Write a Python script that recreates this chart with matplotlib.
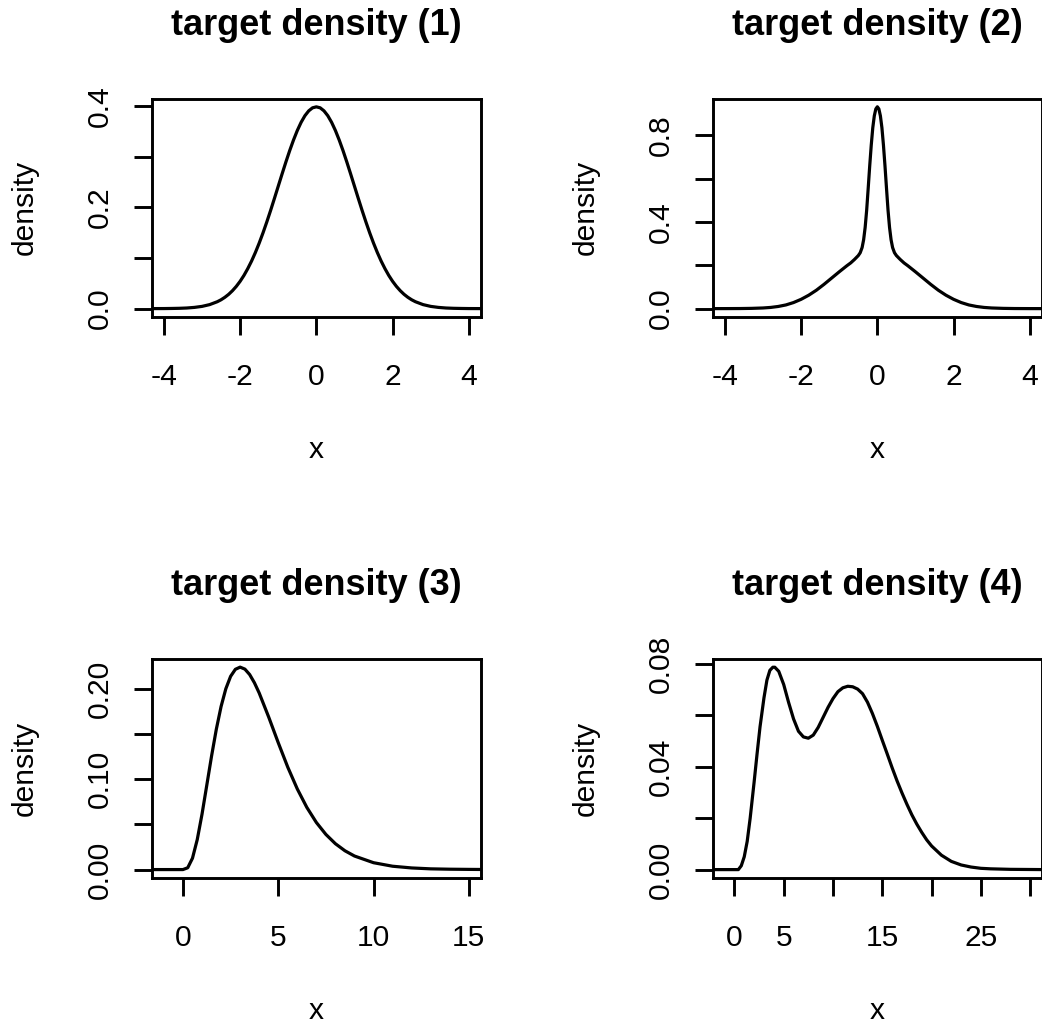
import matplotlib
matplotlib.use("Agg")
import matplotlib.pyplot as plt

plt.rcParams["font.family"] = ["Liberation Sans", "DejaVu Sans"]

# === density curves (x, density) ===
x1 = [-4.4, -4.0, -3.8, -3.6, -3.4, -3.2, -3.0, -2.8, -2.6,
      -2.5, -2.4, -2.3, -2.2, -2.1, -2.0, -1.9, -1.8, -1.7, -1.6, -1.5, -1.4, -1.3, -1.2, -1.1,
      -1.0, -0.9, -0.8, -0.7, -0.6, -0.5, -0.4, -0.3, -0.2, -0.1, 0.0,
      0.1, 0.2, 0.3, 0.4, 0.5, 0.6, 0.7, 0.8, 0.9, 1.0,
      1.1, 1.2, 1.3, 1.4, 1.5, 1.6, 1.7, 1.8, 1.9, 2.0, 2.1, 2.2, 2.3, 2.4, 2.5,
      2.6, 2.8, 3.0, 3.2, 3.4, 3.6, 3.8, 4.0, 4.4]
y1 = [0.0, 0.0001, 0.0003, 0.0006, 0.0012, 0.0024, 0.0044, 0.0079, 0.0136,
      0.0175, 0.0224, 0.0283, 0.0355, 0.0440, 0.0540, 0.0656, 0.0790, 0.0940, 0.1109, 0.1295, 0.1497, 0.1714, 0.1942, 0.2179,
      0.2420, 0.2661, 0.2897, 0.3123, 0.3332, 0.3521, 0.3683, 0.3814, 0.3910, 0.3970, 0.3989,
      0.3970, 0.3910, 0.3814, 0.3683, 0.3521, 0.3332, 0.3123, 0.2897, 0.2661, 0.2420,
      0.2179, 0.1942, 0.1714, 0.1497, 0.1295, 0.1109, 0.0940, 0.0790, 0.0656, 0.0540, 0.0440, 0.0355, 0.0283, 0.0224, 0.0175,
      0.0136, 0.0079, 0.0044, 0.0024, 0.0012, 0.0006, 0.0003, 0.0001, 0.0]

x2 = [-4.4, -4.0, -3.6, -3.3, -3.0, -2.8, -2.6, -2.4, -2.2, -2.0, -1.8, -1.6, -1.4, -1.2,
      -1.0, -0.9, -0.8, -0.7, -0.6, -0.55, -0.5, -0.45, -0.4, -0.36, -0.32, -0.28, -0.24,
      -0.2, -0.16, -0.12, -0.08, -0.04, 0.0,
      0.04, 0.08, 0.12, 0.16, 0.2, 0.24, 0.28, 0.32, 0.36, 0.4, 0.45, 0.5, 0.55, 0.6,
      0.7, 0.8, 0.9, 1.0, 1.2, 1.4, 1.6, 1.8, 2.0, 2.2, 2.4, 2.6, 2.8, 3.0, 3.3, 3.6, 4.0, 4.4]
y2 = [0.0, 0.0001, 0.0004, 0.0012, 0.003, 0.0055, 0.010, 0.017, 0.028, 0.043, 0.062, 0.085, 0.112, 0.141,
      0.170, 0.184, 0.198, 0.211, 0.227, 0.236, 0.245, 0.258, 0.282, 0.318, 0.375, 0.455, 0.556,
      0.660, 0.755, 0.835, 0.890, 0.922, 0.932,
      0.922, 0.890, 0.835, 0.755, 0.660, 0.556, 0.455, 0.375, 0.318, 0.282, 0.258, 0.245, 0.236, 0.227,
      0.211, 0.198, 0.184, 0.170, 0.141, 0.112, 0.085, 0.062, 0.043, 0.028, 0.017, 0.010, 0.0055, 0.003,
      0.0012, 0.0004, 0.0001, 0.0]

x3 = [-1.7, 0.0, 0.25, 0.5, 0.75, 1.0, 1.25, 1.5, 1.75, 2.0, 2.25, 2.5, 2.75, 3.0,
      3.25, 3.5, 3.75, 4.0, 4.5, 5.0, 5.5, 6.0, 6.5, 7.0, 7.5, 8.0, 8.5, 9.0,
      10.0, 11.0, 12.0, 13.0, 14.0, 15.0, 15.7]
y3 = [0.0, 0.0, 0.0020, 0.0126, 0.0332, 0.0613, 0.0933, 0.1255, 0.1552, 0.1804, 0.2001, 0.2138, 0.2216, 0.2240,
      0.2218, 0.2158, 0.2067, 0.1954, 0.1687, 0.1404, 0.1133, 0.0892, 0.0688, 0.0521, 0.0389, 0.0286, 0.0208, 0.0150,
      0.0076, 0.0037, 0.0018, 0.0008, 0.0004, 0.0002, 0.0001]

x4 = [-2.3, 0.0, 0.4, 0.7, 1.0, 1.3, 1.6, 2.0, 2.3, 2.6, 3.0, 3.3, 3.6, 3.9, 4.1, 4.5,
      5.0, 5.5, 6.0, 6.5, 7.0, 7.5, 8.0, 8.5, 9.0, 9.5, 10.0, 10.5, 11.0, 11.5, 12.0,
      12.5, 13.0, 13.5, 14.0, 14.5, 15.0, 15.5, 16.0, 16.5, 17.0, 17.5, 18.0, 18.5,
      19.0, 19.5, 20.0, 21.0, 22.0, 23.0, 24.0, 25.0, 26.0, 28.0, 31.5]
y4 = [0.0, 0.0, 0.0, 0.0015, 0.0050, 0.0110, 0.0200, 0.0340, 0.0450, 0.0555, 0.0668, 0.0737, 0.0775, 0.0787, 0.0787, 0.0771,
      0.0720, 0.0650, 0.0586, 0.0538, 0.0516, 0.0511, 0.0523, 0.0553, 0.0592, 0.0631, 0.0665, 0.0692, 0.0707, 0.0713, 0.0711,
      0.0702, 0.0684, 0.0651, 0.0607, 0.0557, 0.0503, 0.0450, 0.0396, 0.0345, 0.0298, 0.0254, 0.0213, 0.0177,
      0.0145, 0.0116, 0.0092, 0.0056, 0.0032, 0.0018, 0.0010, 0.0005, 0.0003, 0.0001, 0.0]

titles = ["target density (1)", "target density (2)", "target density (3)", "target density (4)"]

xticks1 = [-4, -2, 0, 2, 4]
xlabels1 = ["-4", "-2", "0", "2", "4"]
xticks3 = [0, 5, 10, 15]
xlabels3 = ["0", "5", "10", "15"]
xticks4 = [0, 5, 10, 15, 20, 25, 30]
xlabels4 = ["0", "5", "", "15", "", "25", ""]

yticks1 = [0.0, 0.1, 0.2, 0.3, 0.4]
ylabels1 = ["0.0", "", "0.2", "", "0.4"]
yticks2 = [0.0, 0.2, 0.4, 0.6, 0.8]
ylabels2 = ["0.0", "", "0.4", "", "0.8"]
yticks3 = [0.0, 0.05, 0.10, 0.15, 0.20]
ylabels3 = ["0.00", "", "0.10", "", "0.20"]
yticks4 = [0.0, 0.02, 0.04, 0.06, 0.08]
ylabels4 = ["0.00", "", "0.04", "", "0.08"]

panels = [
    dict(x=x1, y=y1, xt=xticks1, xl=xlabels1, yt=yticks1, yl=ylabels1,
         xlim=(-4.32, 4.32), ylim=(-0.016, 0.415), rect=[0.14559, 0.69252, 0.31603, 0.21165]),
    dict(x=x2, y=y2, xt=xticks1, xl=xlabels1, yt=yticks2, yl=ylabels2,
         xlim=(-4.32, 4.32), ylim=(-0.0373, 0.9693), rect=[0.68397, 0.69252, 0.31603, 0.21165]),
    dict(x=x3, y=y3, xt=xticks3, xl=xlabels3, yt=yticks3, yl=ylabels3,
         xlim=(-1.64, 15.64), ylim=(-0.009, 0.233), rect=[0.14559, 0.14786, 0.31603, 0.21233]),
    dict(x=x4, y=y4, xt=xticks4, xl=xlabels4, yt=yticks4, yl=ylabels4,
         xlim=(-2.2, 31.2), ylim=(-0.00315, 0.0819), rect=[0.68397, 0.14786, 0.31603, 0.21233]),
]

BASE = 21.6
LW = 2.1

fig = plt.figure(figsize=(10.42, 10.30), dpi=100)

for title, p in zip(titles, panels):
    ax = fig.add_axes(p["rect"])
    ax.plot(p["x"], p["y"], color="black", lw=2.3, solid_joinstyle="round")
    ax.set_xlim(*p["xlim"])
    ax.set_ylim(*p["ylim"])

    ax.set_xticks(p["xt"], p["xl"])
    ax.set_yticks(p["yt"], p["yl"])
    ax.tick_params(axis="both", direction="out", length=13, width=LW, labelsize=BASE)
    ax.tick_params(axis="x", pad=36.2)
    ax.tick_params(axis="y", pad=18.2)
    for lab in ax.get_xticklabels():
        lab.set_va("baseline")
    for lab in ax.get_yticklabels():
        lab.set_rotation(90)
        lab.set_rotation_mode("anchor")
        lab.set_ha("center")
        lab.set_va("baseline")

    for s in ax.spines.values():
        s.set_linewidth(LW)

    ax.set_title(title, fontsize=BASE * 1.2, fontweight="bold", pad=46)
    ax.set_xlabel("x", fontsize=BASE, va="baseline")
    ax.xaxis.set_label_coords(0.5, -0.648)
    ax.set_ylabel("density", fontsize=BASE, va="baseline")
    ax.yaxis.set_label_coords(-0.3605, 0.5)

fig.savefig("out.png", dpi=100, facecolor="white")
